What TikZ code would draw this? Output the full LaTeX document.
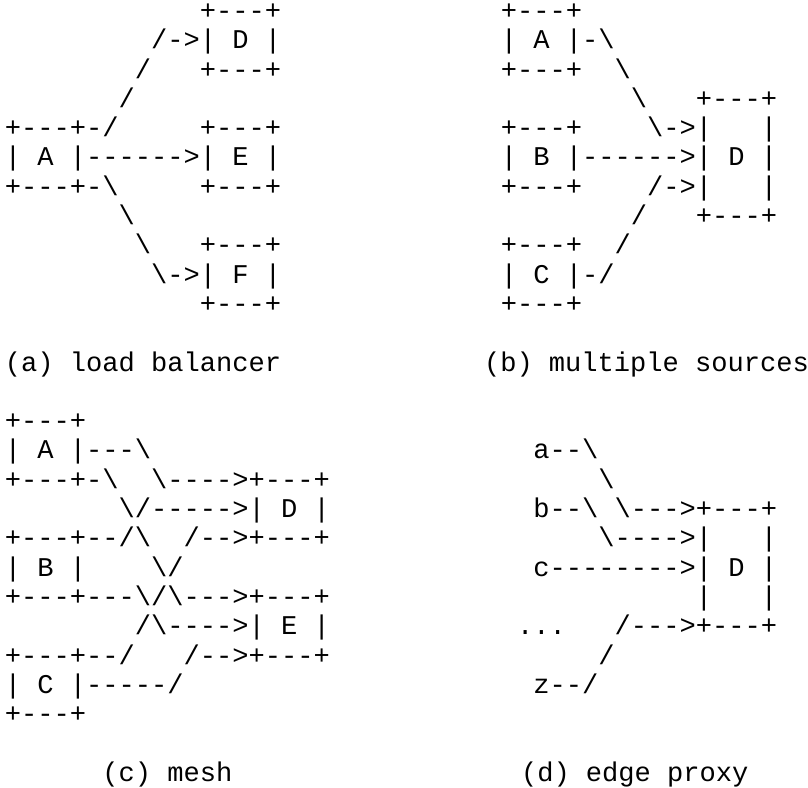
\documentclass[tikz,border=0pt]{standalone}
\usepackage{fontspec}
\setmonofont{Liberation Mono}
\newcommand\bs{\textbackslash}
\tikzset{asc/.style={anchor=base west, inner sep=0pt, outer sep=0pt,
  font=\ttfamily\fontsize{27.08}{30}\selectfont, text=black}}
% name, x of column 0, row, text
\newcommand\arow[4]{\node[asc] (#1) at (#2, {787-19.5-29.3*#3}) {#4};}
\begin{document}
\begin{tikzpicture}[x=1pt,y=1pt]
\useasboundingbox (0,0) rectangle (808,787);
\def\xa{4.9}
\def\xb{500.9}
% (a) load balancer
\arow{a0}{\xa}{0}{~~~~~~~~~~~~+---+}
\arow{a1}{\xa}{1}{~~~~~~~~~/->|~D~|}
\arow{a2}{\xa}{2}{~~~~~~~~/~~~+---+}
\arow{a3}{\xa}{3}{~~~~~~~/}
\arow{a4}{\xa}{4}{+---+-/~~~~~+---+}
\arow{a5}{\xa}{5}{|~A~|------>|~E~|}
\arow{a6}{\xa}{6}{+---+-\bs{}~~~~~+---+}
\arow{a7}{\xa}{7}{~~~~~~~\bs{}}
\arow{a8}{\xa}{8}{~~~~~~~~\bs{}~~~+---+}
\arow{a9}{\xa}{9}{~~~~~~~~~\bs{}->|~F~|}
\arow{a10}{\xa}{10}{~~~~~~~~~~~~+---+}
\node[asc] (capa) at (\xa, {787-19.5-29.3*12}) {(a)~load~balancer};
% (b) multiple sources
\arow{b0}{\xb}{0}{+---+}
\arow{b1}{\xb}{1}{|~A~|-\bs{}}
\arow{b2}{\xb}{2}{+---+~~\bs{}}
\arow{b3}{\xb}{3}{~~~~~~~~\bs{}~~~+---+}
\arow{b4}{\xb}{4}{+---+~~~~\bs{}->|~~~|}
\arow{b5}{\xb}{5}{|~B~|------>|~D~|}
\arow{b6}{\xb}{6}{+---+~~~~/->|~~~|}
\arow{b7}{\xb}{7}{~~~~~~~~/~~~+---+}
\arow{b8}{\xb}{8}{+---+~~/}
\arow{b9}{\xb}{9}{|~C~|-/}
\arow{b10}{\xb}{10}{+---+}
\node[asc] (capb) at (484, {787-19.5-29.3*12}) {(b)~multiple~sources};
% (c) mesh
\arow{c14}{\xa}{14}{+---+}
\arow{c15}{\xa}{15}{|~A~|---\bs{}}
\arow{c16}{\xa}{16}{+---+-\bs{}~~\bs{}---->+---+}
\arow{c17}{\xa}{17}{~~~~~~~\bs{}/----->|~D~|}
\arow{c18}{\xa}{18}{+---+--/\bs{}~~/-->+---+}
\arow{c19}{\xa}{19}{|~B~|~~~~\bs{}/}
\arow{c20}{\xa}{20}{+---+---\bs{}/\bs{}--->+---+}
\arow{c21}{\xa}{21}{~~~~~~~~/\bs{}---->|~E~|}
\arow{c22}{\xa}{22}{+---+--/~~~/-->+---+}
\arow{c23}{\xa}{23}{|~C~|-----/}
\arow{c24}{\xa}{24}{+---+}
\node[asc] (capc) at ({\xa+6*16.25}, {787-19.5-29.3*26}) {(c)~mesh};
% (d) edge proxy
\arow{d15}{\xb}{15}{~~a--\bs{}}
\arow{d16}{\xb}{16}{~~~~~~\bs{}}
\arow{d17}{\xb}{17}{~~b--\bs{}~\bs{}--->+---+}
\arow{d18}{\xb}{18}{~~~~~~\bs{}---->|~~~|}
\arow{d19}{\xb}{19}{~~c-------->|~D~|}
\arow{d20}{\xb}{20}{~~~~~~~~~~~~|~~~|}
\arow{d21}{\xb}{21}{~...~~~/--->+---+}
\arow{d22}{\xb}{22}{~~~~~~/}
\arow{d23}{\xb}{23}{~~z--/}
\node[asc] (capd) at (521, {787-19.5-29.3*26}) {(d)~edge~proxy};
\end{tikzpicture}
\end{document}
